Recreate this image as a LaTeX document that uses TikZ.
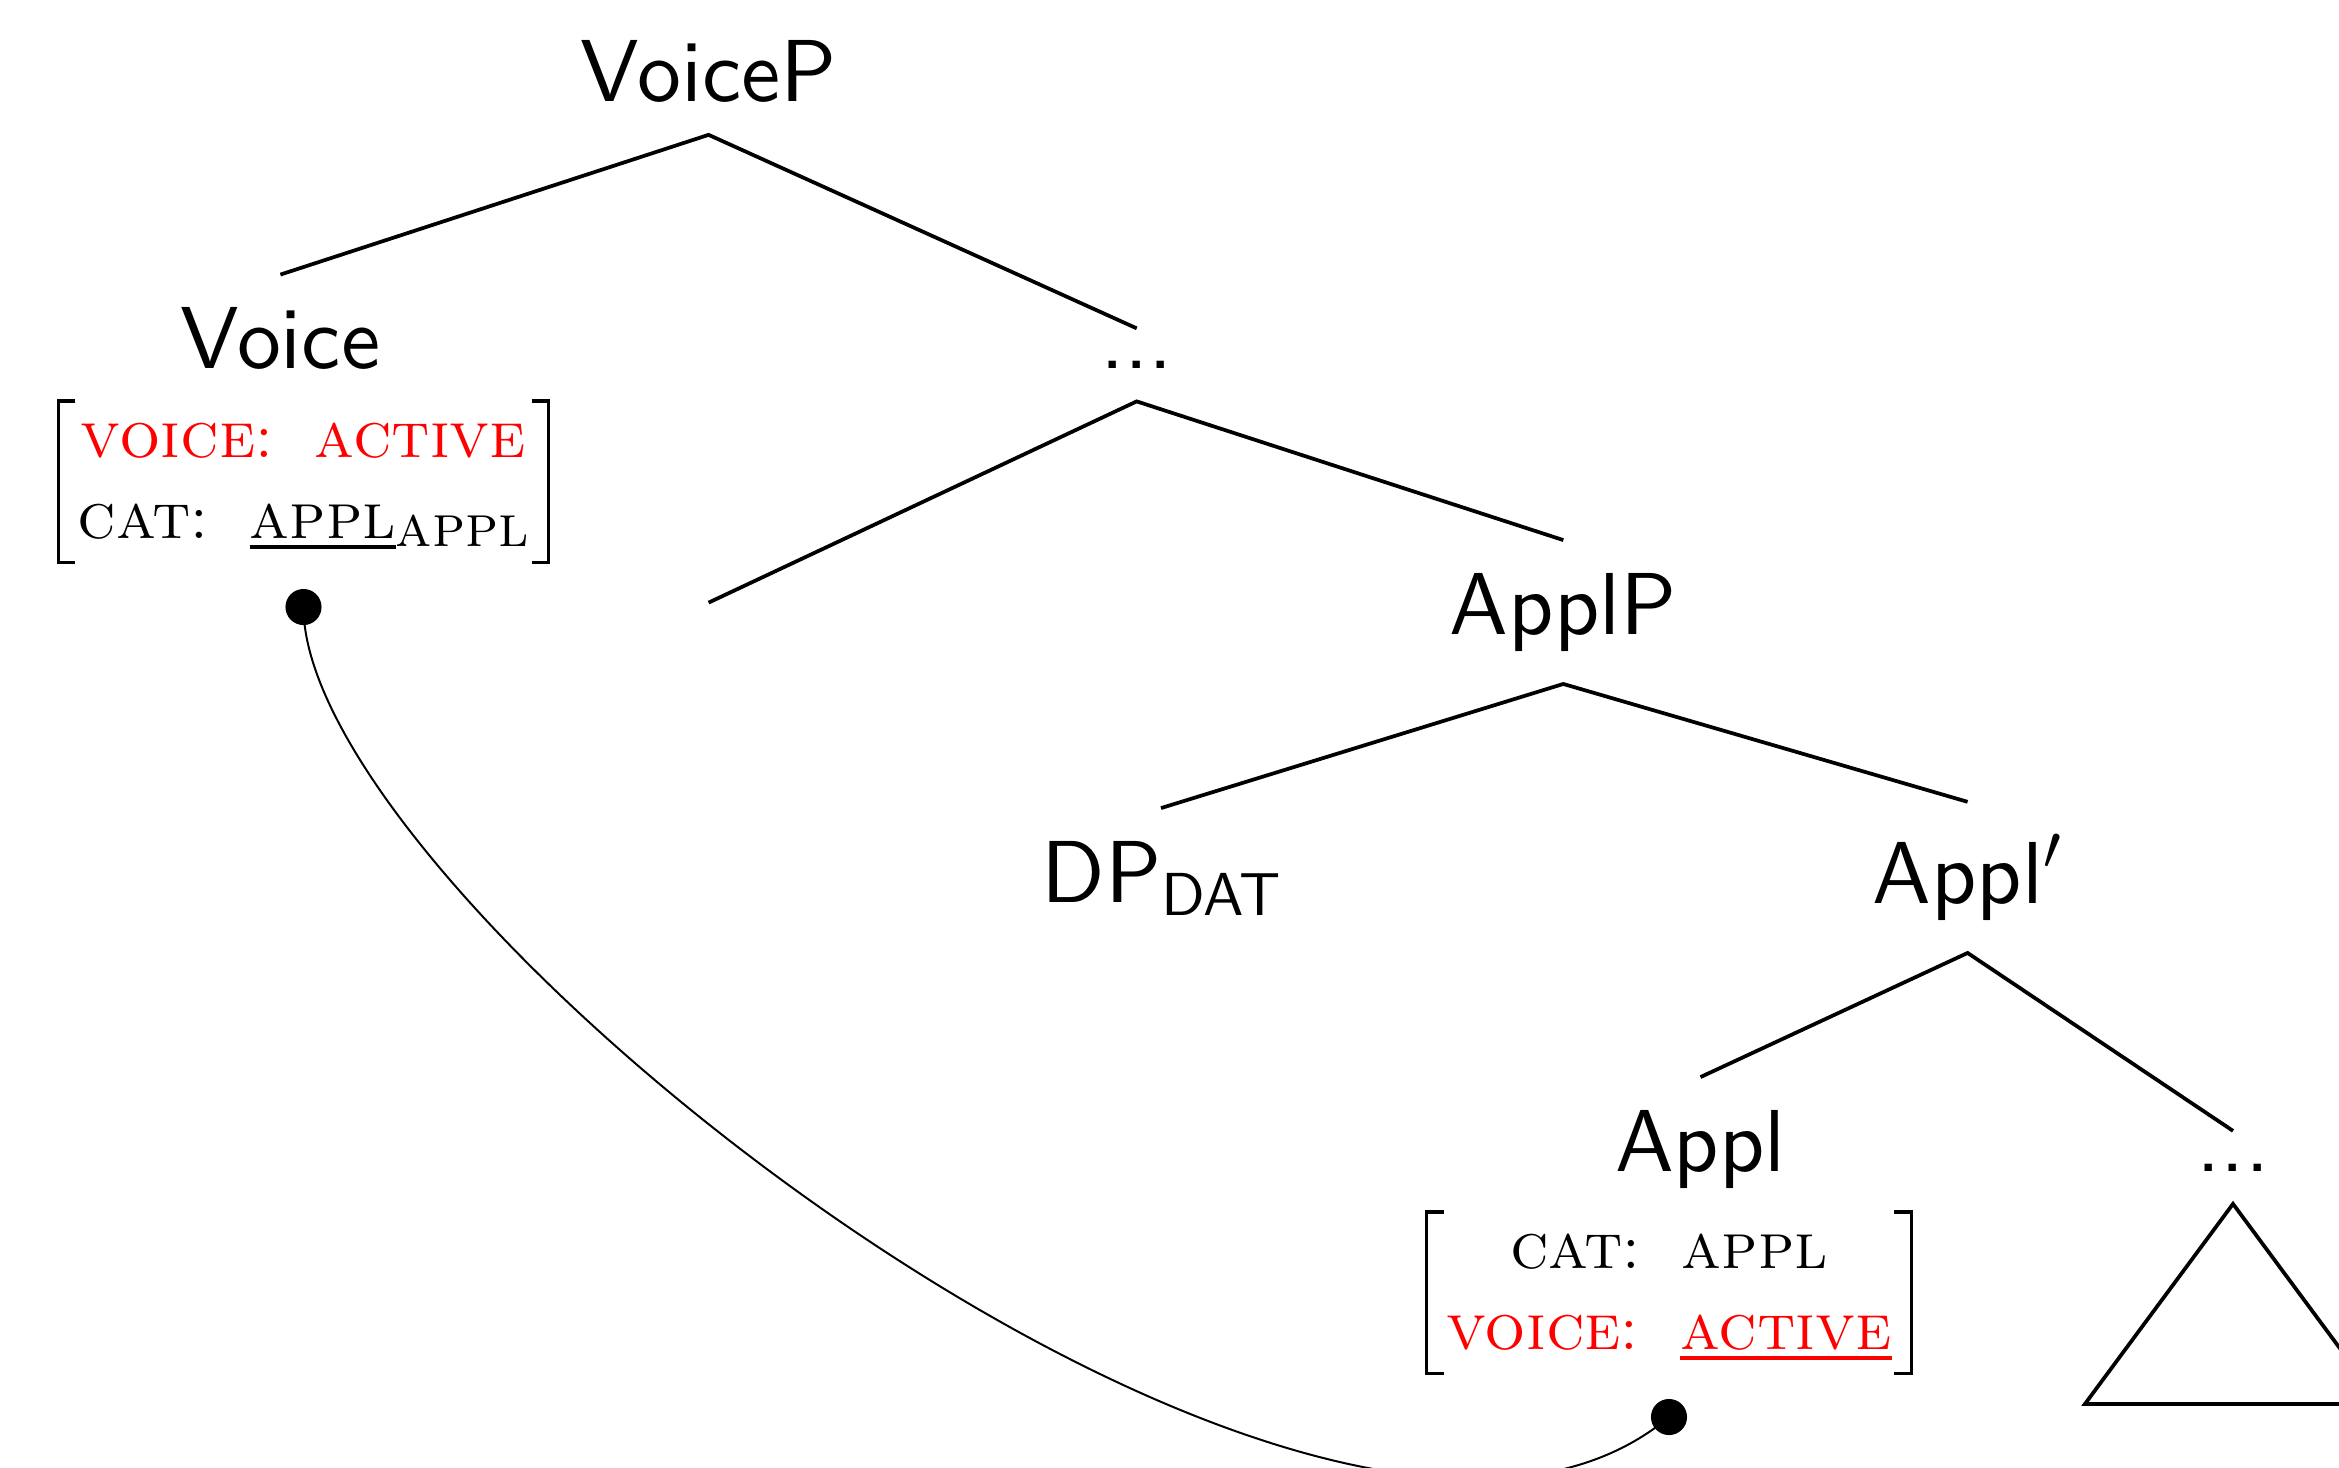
\documentclass[tikz,border=0pt]{standalone}
\usepackage{fontspec}
\newfontfamily\labelfont{lmsans10-regular.otf}

% feature values are set in small capitals
\newcommand{\feat}[1]{\textsc{#1}}
\newcommand{\fsep}{:\hspace{0.64em}}
% underline with a fixed drop and thickness
\newcommand{\uline}[1]{\setbox0\hbox{#1}\rlap{\rule[-2.4pt]{\wd0}{0.75pt}}\box0}
\newcommand{\fsub}[1]{\raisebox{-2pt}{\fontsize{13.5}{16}\selectfont\feat{#1}}}
\newcommand{\csub}[1]{\raisebox{-2.95pt}{\fontsize{13.8}{16}\selectfont #1}}

\tikzset{
  cat/.style={font=\labelfont\fontsize{20}{24}\selectfont, inner sep=7.27pt, anchor=base},
  avm/.style={font=\rmfamily\fontsize{14.8}{18.2}\selectfont, inner xsep=4.3pt, inner ysep=0pt, anchor=north},
  branch/.style={line width=0.85pt},
  bracket/.style={line width=0.7pt},
  dot/.style={circle, fill=black, inner sep=0pt, minimum size=8.2pt},
  link/.style={line width=0.45pt},
}

% square brackets round an attribute-value matrix node
\newcommand{\avmbrackets}[1]{%
  \draw[bracket] ([xshift=3.9pt]#1.north west) -- (#1.north west) -- (#1.south west) -- ([xshift=3.9pt]#1.south west);
  \draw[bracket] ([xshift=-3.9pt]#1.north east) -- (#1.north east) -- (#1.south east) -- ([xshift=-3.9pt]#1.south east);
}

\begin{document}
\begin{tikzpicture}[x=0.2273pt, y=-0.2273pt]
  \useasboundingbox (0,0) rectangle (2339,1467);

  % tree labels
  \node[cat] (voicep) at (708.6,101)  {VoiceP};
  \node[cat] (voice)  at (280.4,368.5) {Voice};
  \node[cat] (mdots)  at (1136.7,368.5) {...};
  \coordinate (spec) at (708.6,602.6);
  \node[cat] (applp)  at (1563.3,634) {ApplP};
  \node[cat] (dp)     at (1161,902)   {DP\csub{DAT}};
  \node[cat] (applb)  at (1967.6,903) {Appl$'$};
  \node[cat] (appl)   at (1700.5,1171) {Appl};
  \node[cat] (rdots)  at (2233,1171)  {...};

  % branches
  \draw[branch] (voice.north) -- (voicep.south) -- (mdots.north);
  \draw[branch] (spec) -- (mdots.south) -- (applp.north);
  \draw[branch] (dp.north) -- (applp.south) -- (applb.north);
  \draw[branch] (appl.north) -- (applb.south) -- (rdots.north);
  \draw[branch] (rdots.south) -- ++(-148,200) -- ++(296,0) -- cycle;

  % feature matrices
  \node[avm] (avmv) at (303.5,401) {%
    \begin{tabular}{@{}c@{}}
      \color{red}\feat{voice}\fsep\feat{active}\\
      \feat{cat}\fsep\uline{\feat{appl}}\fsub{appl}
    \end{tabular}};
  \avmbrackets{avmv}
  \node[avm] (avma) at (1669,1212) {%
    \begin{tabular}{@{}c@{}}
      \feat{cat}\fsep\feat{appl}\\
      \color{red}\feat{voice}\fsep\uline{\feat{active}}
    \end{tabular}};
  \avmbrackets{avma}

  % agreement link between the two matrices
  \node[dot] (d1) at (303.5,607) {};
  \node[dot] (d2) at (1669,1417) {};
  \draw[link] (d1.center) .. controls +(0,300) and +(-345,289) .. (d2.center);
\end{tikzpicture}
\end{document}
